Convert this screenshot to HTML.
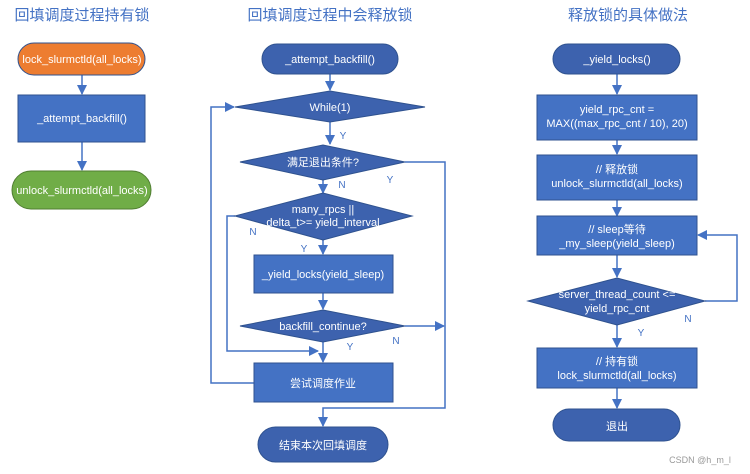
<!DOCTYPE html>
<html><head><meta charset="utf-8"><style>
html,body{margin:0;padding:0;background:#fff;}
svg{display:block;font-family:"Liberation Sans","Noto Sans CJK SC",sans-serif;}
</style></head><body>
<svg width="750" height="474" viewBox="0 0 750 474" xmlns="http://www.w3.org/2000/svg">
<defs>
<marker id="a" markerWidth="10" markerHeight="10" refX="9" refY="5" orient="auto" markerUnits="userSpaceOnUse"><path d="M0,0 L10,5 L0,10 z" fill="#4472C4"/></marker>
</defs>
<g font-size="15" fill="#4472C4" text-anchor="middle">
<text x="82" y="20">回填调度过程持有锁</text>
<text x="330" y="20">回填调度过程中会释放锁</text>
<text x="628" y="20">释放锁的具体做法</text>
</g>
<g stroke="#4472C4" stroke-width="1.5" fill="none" marker-end="url(#a)">
<!-- left -->
<line x1="82" y1="75" x2="82" y2="94"/>
<line x1="82" y1="142" x2="82" y2="170"/>
<!-- middle -->
<line x1="330" y1="74" x2="330" y2="90"/>
<line x1="330" y1="122" x2="330" y2="144"/>
<line x1="323" y1="180" x2="323" y2="193"/>
<line x1="323" y1="240" x2="323" y2="254"/>
<line x1="323" y1="293" x2="323" y2="309"/>
<line x1="323" y1="342" x2="323" y2="362"/>
<line x1="405" y1="326" x2="444" y2="326"/>
<polyline points="235,216 227,216 227,351 318,351"/>
<polyline points="254,383 211,383 211,107 234,107"/>
<polyline points="405,162 445,162 445,408 323,408 323,426"/>
<!-- right -->
<line x1="617" y1="74" x2="617" y2="94"/>
<line x1="617" y1="140" x2="617" y2="154"/>
<line x1="617" y1="200" x2="617" y2="216"/>
<line x1="617" y1="255" x2="617" y2="277"/>
<line x1="617" y1="325" x2="617" y2="347"/>
<line x1="617" y1="388" x2="617" y2="408"/>
<polyline points="705,301 737,301 737,235 698,235"/>
</g>
<!-- shapes -->
<g stroke="#2F528F" stroke-width="1">
<rect x="18" y="43" width="127" height="32" rx="16" fill="#ED7D31"/>
<rect x="18" y="95" width="127" height="47" fill="#4472C4"/>
<rect x="12" y="171" width="139" height="38" rx="19" fill="#70AD47" stroke="#507E32"/>
<rect x="262" y="44" width="136" height="30" rx="15" fill="#3D62AE"/>
<polygon points="235,107 330,91 425,107 330,122" fill="#3D62AE"/>
<polygon points="240,162 323,145 405,162 323,180" fill="#3D62AE"/>
<polygon points="235,216 323,193 412,216 323,240" fill="#3D62AE"/>
<rect x="254" y="255" width="139" height="38" fill="#4472C4"/>
<polygon points="240,326 323,310 405,326 323,342" fill="#3D62AE"/>
<rect x="254" y="363" width="139" height="39" fill="#4472C4"/>
<rect x="258" y="427" width="130" height="35" rx="17.5" fill="#3D62AE"/>
<rect x="553" y="44" width="127" height="30" rx="15" fill="#3D62AE"/>
<rect x="537" y="95" width="160" height="45" fill="#4472C4"/>
<rect x="537" y="155" width="160" height="45" fill="#4472C4"/>
<rect x="537" y="216" width="160" height="39" fill="#4472C4"/>
<polygon points="528,301 617,278 705,301 617,325" fill="#3D62AE"/>
<rect x="537" y="348" width="160" height="40" fill="#4472C4"/>
<rect x="553" y="409" width="127" height="32" rx="16" fill="#3D62AE"/>
</g>
<g fill="#fff" font-size="11" text-anchor="middle">
<text x="82" y="63">lock_slurmctld(all_locks)</text>
<text x="82" y="122">_attempt_backfill()</text>
<text x="82" y="194">unlock_slurmctld(all_locks)</text>
<text x="330" y="63">_attempt_backfill()</text>
<text x="330" y="111">While(1)</text>
<text x="323" y="166">满足退出条件?</text>
<text x="323" y="213">many_rpcs ||</text>
<text x="323" y="226">delta_t&gt;= yield_interval</text>
<text x="323" y="278">_yield_locks(yield_sleep)</text>
<text x="323" y="330">backfill_continue?</text>
<text x="323" y="387">尝试调度作业</text>
<text x="323" y="449">结束本次回填调度</text>
<text x="617" y="63">_yield_locks()</text>
<text x="617" y="113">yield_rpc_cnt =</text>
<text x="617" y="127">MAX((max_rpc_cnt / 10), 20)</text>
<text x="617" y="173">// 释放锁</text>
<text x="617" y="187">unlock_slurmctld(all_locks)</text>
<text x="617" y="233">// sleep等待</text>
<text x="617" y="247">_my_sleep(yield_sleep)</text>
<text x="617" y="298">server_thread_count &lt;=</text>
<text x="617" y="312">yield_rpc_cnt</text>
<text x="617" y="365">// 持有锁</text>
<text x="617" y="379">lock_slurmctld(all_locks)</text>
<text x="617" y="430">退出</text>
</g>
<g fill="#4472C4" font-size="10" text-anchor="middle">
<text x="343" y="139">Y</text>
<text x="390" y="183">Y</text>
<text x="342" y="188">N</text>
<text x="253" y="235">N</text>
<text x="304" y="252">Y</text>
<text x="396" y="344">N</text>
<text x="350" y="350">Y</text>
<text x="688" y="322">N</text>
<text x="641" y="336">Y</text>
</g>
<text x="700" y="463" font-size="9" fill="#999" text-anchor="middle">CSDN @h_m_l</text>
</svg>
</body></html>
